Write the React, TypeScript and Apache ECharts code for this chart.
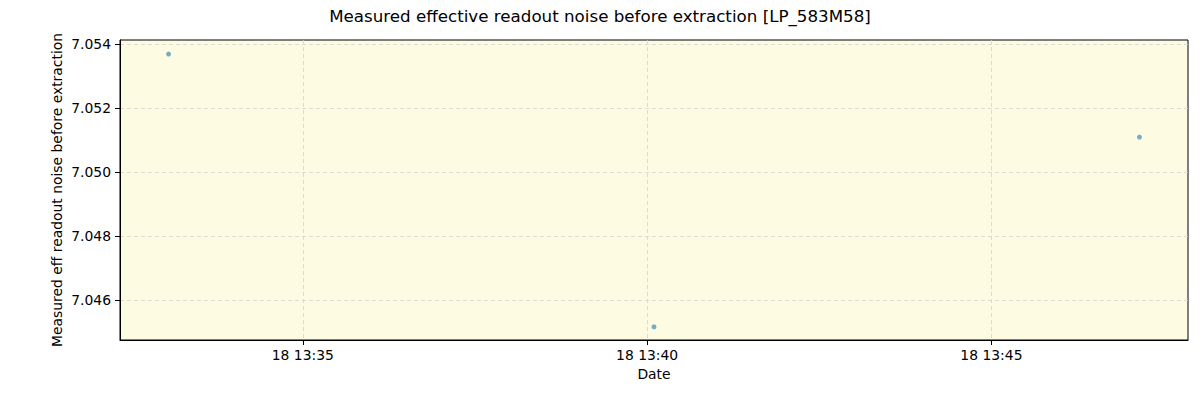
import React, { useEffect, useRef } from "react";
import * as echarts from "echarts";

const title = "Measured effective readout noise before extraction [LP_583M58]";
const xAxisName = "Date";
const yAxisName = "Measured eff readout noise before extraction";

const times = ["2023-10-18T13:33:03Z", "2023-10-18T13:40:06Z", "2023-10-18T13:47:09Z"];
const noiseValues = [7.05370, 7.04516, 7.05110];

const xMin = "2023-10-18T13:32:20.7Z";
const xMax = "2023-10-18T13:47:51.3Z";
const yMin = 7.04475;
const yMax = 7.05414;

const FONT = "DejaVu Sans";

function pad2(n: number) {
  return n < 10 ? "0" + n : String(n);
}

export default function App() {
  const ref = useRef<HTMLDivElement>(null);
  useEffect(() => {
    document.body.style.margin = "0";
    if (!ref.current) return;
    const chart = echarts.init(ref.current, null, { renderer: "svg" });
    const data = times.map((t, i) => [Date.parse(t), noiseValues[i]]);
    const gridLine = {
      show: true,
      showMinLine: false,
      showMaxLine: false,
      lineStyle: { color: "#d3d3d3", type: [4, 3], width: 0.8 },
    };
    chart.setOption({
      animation: false,
      title: {
        text: title,
        left: "center",
        top: 2,
        textStyle: { fontFamily: FONT, fontSize: 16.7, fontWeight: "normal", color: "#000" },
      },
      grid: {
        left: 120,
        top: 40,
        right: 12,
        bottom: 60,
        show: true,
        backgroundColor: "#fdfbe2",
        borderColor: "#000",
        borderWidth: 1,
      },
      xAxis: {
        type: "value",
        min: Date.parse(xMin),
        max: Date.parse(xMax),
        splitNumber: 3,
        name: xAxisName,
        nameLocation: "middle",
        nameGap: 27,
        nameMoveOverlap: false,
        nameTextStyle: { fontFamily: FONT, fontSize: 13.9, color: "#000" },
        axisLine: { show: true, lineStyle: { color: "#000" } },
        axisTick: { show: true, length: 5, lineStyle: { color: "#000" } },
        axisLabel: {
          showMinLabel: false,
          showMaxLabel: false,
          margin: 8,
          fontFamily: FONT,
          fontSize: 13.9,
          color: "#000",
          formatter: (v: number) => {
            const d = new Date(v);
            return `${d.getUTCDate()} ${pad2(d.getUTCHours())}:${pad2(d.getUTCMinutes())}`;
          },
        },
        splitLine: gridLine,
      },
      yAxis: {
        type: "value",
        min: yMin,
        max: yMax,
        splitNumber: 5,
        name: yAxisName,
        nameLocation: "middle",
        nameGap: 56,
        nameMoveOverlap: false,
        nameTextStyle: { fontFamily: FONT, fontSize: 13.9, color: "#000" },
        axisLine: { show: true, lineStyle: { color: "#000" } },
        axisTick: { show: true, length: 5, lineStyle: { color: "#000" } },
        axisLabel: {
          showMinLabel: false,
          showMaxLabel: false,
          margin: 9,
          fontFamily: FONT,
          fontSize: 13.9,
          color: "#000",
          formatter: (v: number) => v.toFixed(3),
        },
        splitLine: gridLine,
      },
      series: [
        {
          type: "scatter",
          data,
          symbolSize: 5,
          itemStyle: { color: "#1f77b4", opacity: 0.6 },
        },
      ],
    });
    return () => chart.dispose();
  }, []);
  return <div ref={ref} style={{ width: 1200, height: 400 }} />;
}
